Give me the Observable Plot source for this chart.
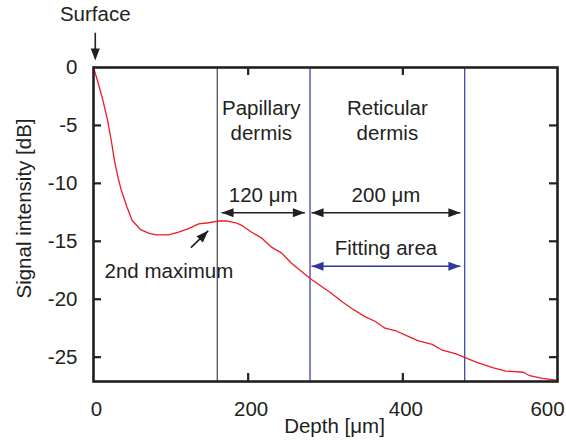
<!DOCTYPE html>
<html><head><meta charset="utf-8">
<script src="https://cdn.jsdelivr.net/npm/d3@7"></script>
<script src="https://cdn.jsdelivr.net/npm/@observablehq/plot@0.6"></script>
<style>html,body{margin:0;padding:0;background:#fff}#chart svg{display:block}</style>
</head><body><div id="chart"></div>
<script>
// ---- data ----
const depth = [0,5,12,18,23,27,32,36,43,50,61,71,81,97,110,123,136,149,161,173,184,191,204,217,230,243,256,269,282,295,308,321,334,351,364,377,390,407,420,438,451,468,483,494,516,533,556,564,579,600];
const intensity = [0,-1.1,-2.8,-4.5,-6.3,-8,-9.6,-10.6,-12,-13.2,-14.0,-14.3,-14.45,-14.45,-14.2,-13.9,-13.5,-13.4,-13.25,-13.25,-13.4,-13.6,-14.2,-14.7,-15.5,-16.0,-16.9,-17.6,-18.3,-18.9,-19.5,-20.2,-20.8,-21.5,-21.9,-22.5,-22.7,-23.2,-23.6,-23.9,-24.4,-24.7,-25.1,-25.4,-25.9,-26.2,-26.3,-26.6,-26.8,-27.0];
const xTicks = [0, 200, 400, 600];
const yTicks = [0, -5, -10, -15, -20, -25];
const layerBoundary = [160];          // dermis boundary (black line)
const fittingBounds = [280, 480];     // fitting area (blue lines)
const regionNames = ["Papillary\ndermis", "Reticular\ndermis"];
const regionCenters = [217, 380];
const spanLabels = ["120 μm", "200 μm"];
const spanStarts = [165.6, 282];
const spanEnds = [273.3, 474.4];
const fitLabel = "Fitting area";
const xLabel = "Depth [μm]";
const yLabel = "Signal intensity [dB]";

// ---- layout / style ----
const W = 566, H = 440;
const ML = 93, MR = 9, MT = 67, MB = 59;
const innerW = W - ML - MR, innerH = H - MT - MB;
const tickLen = 8;
const font = "'Liberation Sans', Arial, sans-serif";
const fs = 20.5;
const ink = "#231f20", red = "#ec1c24", blue = "#2e3a9a";

const curve = depth.map((d, i) => ({depth: d, db: intensity[i]}));
const innerX = xTicks.slice(1, -1), innerY = yTicks.slice(1);

// annotation geometry (data units)
const labelRowY = -4.45, spanY = -12.53, spanTextY = -11.0, fitY = -17.15, fitTextY = -15.6;
const spans = spanStarts.map((s, i) => ({x1: s, x2: spanEnds[i], label: spanLabels[i], xm: (s + spanEnds[i]) / 2}));
const fit = {x1: fittingBounds[0] + 2, x2: fittingBounds[1] - 5.6};
const surfaceArrow = {x: 2.3, y1: 3.0, y2: 0.6, ty: 4.55};
const maxArrow = {x1: 126, y1: -15.54, x2: 148.3, y2: -14.1, tx: 97.5, ty: -17.6};

const headShape = {draw(ctx, l, r) { ctx.moveTo(0, 0); ctx.lineTo(-r, l); ctx.lineTo(r, l); ctx.closePath(); }};
const blackHeads = [
  ...spans.flatMap(s => [{x: s.x1, y: spanY, rot: -90}, {x: s.x2, y: spanY, rot: 90}]),
  {x: surfaceArrow.x, y: surfaceArrow.y2, rot: 180},
  {x: maxArrow.x2, y: maxArrow.y2, rot: 45}
];
const blueHeads = [{x: fit.x1, y: fitY, rot: -90}, {x: fit.x2, y: fitY, rot: 90}];

const chart = Plot.plot({
  width: W, height: H,
  marginLeft: ML, marginRight: MR, marginTop: MT, marginBottom: MB,
  style: {fontFamily: font, fontSize: fs + "px", color: ink, background: "#fff"},
  x: {domain: [0, 600]},
  y: {domain: [-27.1, 0]},
  marks: [
    Plot.ruleX(layerBoundary, {stroke: ink, strokeWidth: 1}),
    Plot.ruleX(fittingBounds, {stroke: blue, strokeWidth: 1.2}),
    Plot.line(curve, {x: "depth", y: "db", stroke: red, strokeWidth: 1.3}),
    // inward ticks
    Plot.tickX(innerX, {x: d => d, insetTop: innerH - tickLen, stroke: ink, strokeWidth: 2.2}),
    Plot.tickX(innerX, {x: d => d, insetBottom: innerH - tickLen, stroke: ink, strokeWidth: 2.2}),
    Plot.tickY(innerY, {y: d => d, insetRight: innerW - tickLen, stroke: ink, strokeWidth: 2.2}),
    Plot.tickY(innerY, {y: d => d, insetLeft: innerW - tickLen, stroke: ink, strokeWidth: 2.2}),
    Plot.frame({stroke: ink, strokeWidth: 2.6}),
    Plot.axisX(xTicks.slice(0, -1), {tickSize: 0, tickPadding: 20, dx: 3, tickFormat: d => String(d), label: null, fontSize: fs, fill: ink}),
    Plot.axisX(xTicks.slice(-1), {tickSize: 0, tickPadding: 20, dx: -10, tickFormat: d => String(d), label: null, fontSize: fs, fill: ink}),
    Plot.axisY(yTicks, {tickSize: 0, tickPadding: 16, tickFormat: d => String(d), label: null, fontSize: fs, fill: ink}),
    Plot.text([xLabel], {text: d => d, frameAnchor: "bottom", dx: 9, dy: 51, fontSize: fs, fill: ink}),
    Plot.text([yLabel], {text: d => d, frameAnchor: "left", textAnchor: "middle", lineAnchor: "middle", rotate: -90, dx: -69, dy: -16, fontSize: fs, fill: ink}),
    // region labels
    Plot.text(regionNames, {x: (d, i) => regionCenters[i], y: labelRowY, text: d => d, fontSize: fs, lineHeight: 1.22, fill: ink}),
    // span arrows
    Plot.link(spans, {x1: "x1", x2: "x2", y1: spanY, y2: spanY, stroke: ink, strokeWidth: 1.6}),
    Plot.text(spans, {x: "xm", y: spanTextY, text: "label", fontSize: fs, fill: ink}),
    // fitting area
    Plot.link([fit], {x1: "x1", x2: "x2", y1: fitY, y2: fitY, stroke: blue, strokeWidth: 1.6}),
    Plot.text([fitLabel], {x: (fit.x1 + fit.x2) / 2, y: fitTextY, text: d => d, fontSize: fs, fill: ink}),
    // surface
    Plot.link([surfaceArrow], {x1: "x", x2: "x", y1: "y1", y2: d => d.y2 + 0.6, stroke: ink, strokeWidth: 1.6}),
    Plot.text(["Surface"], {x: surfaceArrow.x, y: surfaceArrow.ty, text: d => d, fontSize: fs, fill: ink}),
    // 2nd maximum
    Plot.link([maxArrow], {x1: "x1", y1: "y1", x2: "x2", y2: "y2", stroke: ink, strokeWidth: 1.6}),
    Plot.text(["2nd maximum"], {x: maxArrow.tx, y: maxArrow.ty, text: d => d, fontSize: fs, fill: ink}),
    // arrow heads
    Plot.vector(blackHeads, {x: "x", y: "y", rotate: "rot", length: 12, r: 4.5, shape: headShape, anchor: "start", fill: ink, stroke: "none"}),
    Plot.vector(blueHeads, {x: "x", y: "y", rotate: "rot", length: 12, r: 4.5, shape: headShape, anchor: "start", fill: blue, stroke: "none"})
  ]
});
document.getElementById("chart").appendChild(chart);
</script>
</body></html>
